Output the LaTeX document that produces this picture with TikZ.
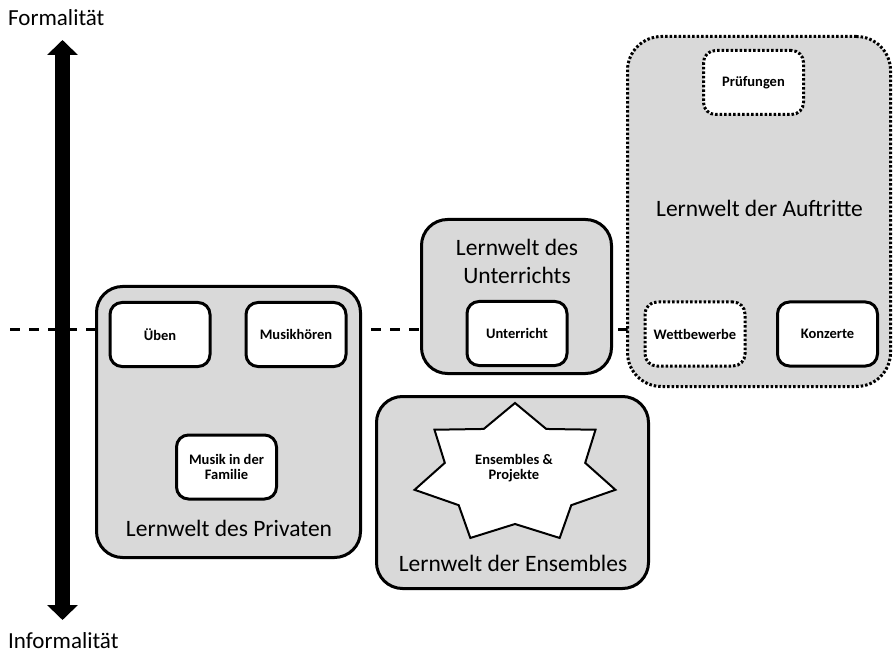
\documentclass[tikz,border=0pt]{standalone}
\usepackage{fontspec}
\setmainfont{Carlito}
\usetikzlibrary{arrows.meta, calc, shapes.geometric}
\tikzset{
    world/.style = {draw, line width=3pt, fill=gray!30, rounded corners=26pt, inner sep=0pt},
    worldname/.style = {font=\fontsize{23.5}{28}\selectfont, align=center, inner sep=0pt},
    item/.style = {draw, line width=3pt, fill=white, rounded corners=12pt,
        minimum width=100pt, minimum height=64pt, align=center,
        font=\bfseries\fontsize{14.5}{15}\selectfont},
    dotitem/.style = {item, dash pattern=on 2.5pt off 2pt},
    axisname/.style = {font=\fontsize{23}{28}\selectfont, anchor=west, inner sep=0pt},
}
\begin{document}
\begin{tikzpicture}[x=1pt,y=-1pt]
\useasboundingbox (0,0) rectangle (895,655);

% axis
\node[axisname] (formal) at (8,18) {Formalität};
\node[axisname] (informal) at (8,641) {Informalität};
\coordinate (axtop) at (62.5,40);
\coordinate (axbot) at (62.5,620);
\draw[line width=15pt, {Triangle[width=30pt,length=15pt]}-{Triangle[width=30pt,length=15pt]}] (axtop) -- (axbot);

% boundary line
\coordinate (dashL) at (10,330);
\coordinate (dashR) at (630,330);
\draw[line width=3pt, dash pattern=on 10pt off 9pt] (dashL) -- (dashR);

% Lernwelt des Privaten
\node[world, minimum width=264pt, minimum height=271pt] (priv) at (228.5,422) {};
\node[worldname] (privname) at (229,528) {Lernwelt des Privaten};
\node[item] (ueben) at (160,334.5) {Üben};
\node[item] (hoeren) at (296,334.5) {Musikhören};
\node[item] (familie) at (226.5,467) {Musik in der\\Familie};

% Lernwelt des Unterrichts
\node[world, minimum width=190pt, minimum height=154pt] (unt) at (516.5,296.5) {};
\node[worldname] (untname) at (517,261) {Lernwelt des\\Unterrichts};
\node[item] (unterricht) at (517,333.5) {Unterricht};

% Lernwelt der Ensembles
\node[world, minimum width=272pt, minimum height=192pt] (ens) at (512.5,492.5) {};
\node[worldname] (ensname) at (513,563) {Lernwelt der Ensembles};
\coordinate (starc) at (515,474);
\draw[line width=2pt, fill=white] ($(starc)+(90:103pt and 71pt)$)
    \foreach \i in {1,...,6}{
        -- ($(starc)+({90+(\i-0.5)*360/7}:72pt and 50pt)$)
        -- ($(starc)+({90+\i*360/7}:103pt and 71pt)$)
    } -- ($(starc)+({90+6.5*360/7}:72pt and 50pt)$) -- cycle;
\node[font=\bfseries\fontsize{14.5}{15}\selectfont, align=center] (ensproj) at (514,468) {Ensembles \&\\Projekte};

% Lernwelt der Auftritte
\node[world, dash pattern=on 2.5pt off 2pt, rounded corners=34pt, minimum width=263pt, minimum height=350pt] (auf) at (759,211.5) {};
\node[worldname] (aufname) at (759.5,208) {Lernwelt der Auftritte};
\node[dotitem] (pruef) at (753.5,82.5) {Prüfungen};
\node[dotitem] (wett) at (695,334) {Wettbewerbe};
\node[item] (konz) at (827.5,334) {Konzerte};
\end{tikzpicture}
\end{document}
